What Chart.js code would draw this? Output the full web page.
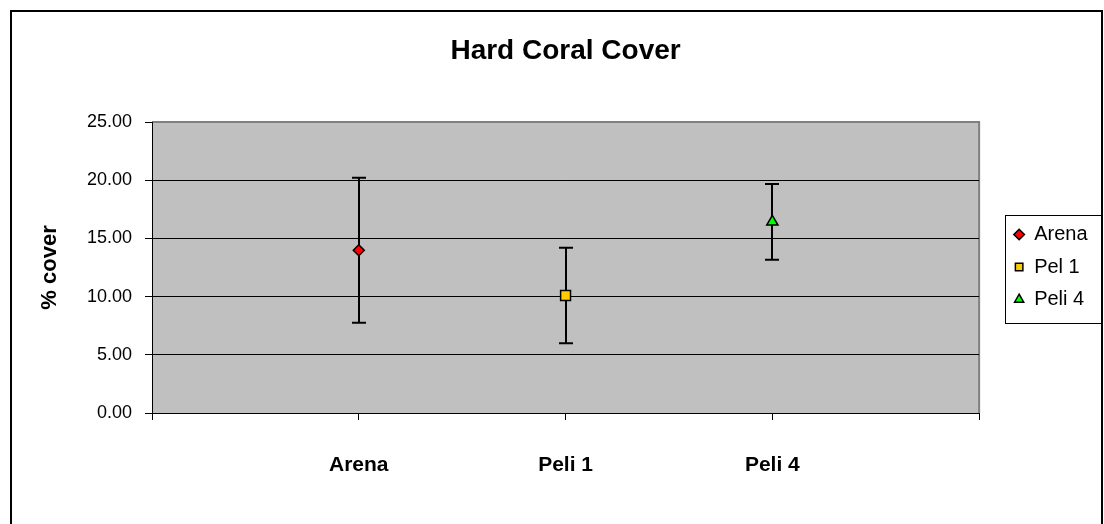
<!DOCTYPE html>
<html>
<head>
<meta charset="utf-8">
<script src="https://cdn.jsdelivr.net/npm/chart.js@4.4.0/dist/chart.umd.min.js"></script>
<style>
    body { margin: 0; background: #fff; }
    #wrap { width: 1104px; height: 524px; }
</style>
</head>
<body>
<div id="wrap"><canvas id="coral-chart"></canvas></div>
<script>

// 값
const sites = ["Arena", "Pel 1", "Peli 4"];          // legend names
const axisNames = ["Arena", "Peli 1", "Peli 4"];     // names under the x axis
const meanCover = [13.98, 10.10, 16.42];
const errCover = [6.22, 4.10, 3.25];
const yTicks = [0, 5, 10, 15, 20, 25];
const xTicks = [0, 1, 2, 3, 4];

// styles
const pointStyles = ["rectRot", "rect", "triangle"];
const pointColors = ["#FF0000", "#FFCC00", "#00FF00"];
const pointSizes = [5.5, 7, 6.5];

Chart.defaults.color = "#000";
Chart.defaults.font.family = "'Liberation Sans', Arial, sans-serif";


// 바탕, 테두리
const chartBox = {
    id: "chartBox",
    afterLayout(chart) {
        // legend sits a bit away from the plot
        chart.legend.left += 22.5;
        chart.legend.right += 22.5;
    },
    beforeDraw(chart) {
        const ctx = chart.ctx;
        const a = chart.chartArea;
        ctx.save();
        ctx.fillStyle = "#fff";
        ctx.fillRect(0, 0, chart.width, chart.height);

        ctx.fillStyle = "#C0C0C0";
        ctx.fillRect(a.left, a.top, a.right - a.left, a.bottom - a.top);
        ctx.strokeStyle = "#808080";
        ctx.lineWidth = 2;
        ctx.beginPath();
        ctx.moveTo(a.left, a.top);
        ctx.lineTo(a.right, a.top);
        ctx.lineTo(a.right, a.bottom);
        ctx.stroke();
        ctx.restore();
    },
    afterDraw(chart) {
        const ctx = chart.ctx;
        ctx.save();
        // legend border
        const hb = chart.legend.legendHitBoxes;
        if (hb && hb.length) {
            const last = hb[hb.length - 1];
            ctx.strokeStyle = "#000";
            ctx.lineWidth = 1;
            const x0 = Math.round(hb[0].left - 9) + 0.5;
            const y0 = Math.round(hb[0].top - 10) + 0.5;
            const y1 = Math.round(last.top + last.height + 13) + 0.5;
            ctx.strokeRect(x0, y0, 1102 - x0, y1 - y0);
        }
        // outer frame
        ctx.strokeStyle = "#000";
        ctx.lineWidth = 2;
        ctx.strokeRect(11, 11, 1091, 600);
        ctx.restore();
    }
};

// error bars
const errorBars = {
    id: "errorBars",
    beforeDatasetsDraw(chart) {
        const ctx = chart.ctx;
        const xs = chart.scales.x;
        const ys = chart.scales.y;
        ctx.save();
        ctx.strokeStyle = "#000";
        ctx.lineWidth = 2;
        for (let i = 0; i < meanCover.length; i++) {
            const x = Math.round(xs.getPixelForValue(i + 1));
            const top = ys.getPixelForValue(meanCover[i] + errCover[i]);
            const bot = ys.getPixelForValue(meanCover[i] - errCover[i]);
            ctx.beginPath();
            ctx.moveTo(x, top);
            ctx.lineTo(x, bot);
            ctx.moveTo(x - 7, top);
            ctx.lineTo(x + 7, top);
            ctx.moveTo(x - 7, bot);
            ctx.lineTo(x + 7, bot);
            ctx.stroke();
        }
        ctx.restore();
    }
};


let datasets = [];
for (let i = 0; i < sites.length; i++) {
    datasets.push({
        label: sites[i],
        data: [{ x: i + 1, y: meanCover[i] }],
        pointStyle: pointStyles[i],
        backgroundColor: pointColors[i],
        borderColor: "#000",
        borderWidth: 1.5,
        pointRadius: pointSizes[i],
        pointHoverRadius: pointSizes[i]
    });
}


new Chart(document.getElementById("coral-chart"), {
    type: "scatter",
    data: { datasets: datasets },
    plugins: [chartBox, errorBars],
    options: {
        responsive: true,
        maintainAspectRatio: false,
        animation: false,
        layout: { padding: { left: 10, top: 10, right: 29, bottom: 0 } },
        plugins: {
            title: {
                display: true,
                text: "Hard Coral Cover",
                fullSize: false,
                color: "#000",
                font: { size: 28, weight: "bold" },
                padding: { top: 24, bottom: 54.4 }
            },
            legend: {
                position: "right",
                labels: {
                    usePointStyle: true,
                    boxWidth: 10,
                    boxHeight: 7.5,
                    padding: 12.5,
                    color: "#000",
                    font: { size: 20 }
                }
            },
            tooltip: { enabled: false }
        },
        scales: {
            x: {
                type: "linear",
                min: 0,
                max: 4,
                afterBuildTicks: function (scale) {
                    scale.ticks = xTicks.map(v => ({ value: v }));
                },
                afterFit: function (scale) {
                    scale.height = 111;
                },
                grid: { drawOnChartArea: false, color: "#000", tickLength: 7 },
                border: { color: "#000", width: 1 },
                ticks: {
                    autoSkip: false,
                    maxRotation: 0,
                    padding: 33,
                    color: "#000",
                    font: { size: 21, weight: "bold" },
                    callback: function (v) {
                        return axisNames[v - 1] || "";
                    }
                }
            },
            y: {
                min: 0,
                max: 25,
                afterBuildTicks: function (scale) {
                    scale.ticks = yTicks.map(v => ({ value: v }));
                },
                afterFit: function (scale) {
                    scale.width = 142;
                },
                grid: {
                    color: function (c) {
                        return c.tick && c.tick.value == 25 ? "#808080" : "#000";
                    },
                    tickColor: "#000",
                    tickLength: 7
                },
                border: { color: "#000", width: 1 },
                ticks: {
                    padding: 13,
                    color: "#000",
                    font: { size: 18 },
                    callback: function (v) {
                        return Number(v).toFixed(2);
                    }
                },
                title: {
                    display: true,
                    text: "% cover",
                    color: "#000",
                    font: { size: 22, weight: "bold" },
                    padding: { top: 27, bottom: 0 }
                }
            }
        }
    }
});

</script>
</body>
</html>
